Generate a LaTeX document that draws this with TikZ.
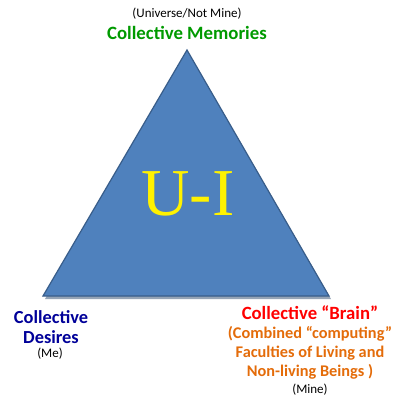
\documentclass[tikz,border=0pt]{standalone}
\usepackage{fontspec}
\setmainfont{Carlito}
\newfontfamily\serifui{Liberation Serif}
\definecolor{trifill}{HTML}{4F81BD}
\definecolor{triedge}{HTML}{385D8A}
\definecolor{memgreen}{HTML}{009A00}
\definecolor{desblue}{HTML}{000099}
\definecolor{brainred}{HTML}{FF0000}
\definecolor{facorange}{HTML}{E46C0A}
\tikzset{
  lbl/.style={inner sep=0pt, align=center},
  small/.style={inner sep=0pt, align=center, font=\fontsize{13}{15}\selectfont, text=black},
}
\begin{document}
\begin{tikzpicture}[x=1pt,y=-1pt]
\useasboundingbox (0,0) rectangle (410,408);
\fill[white] (0,0) rectangle (410,408);
% shadow
\fill[triedge!80!black, opacity=0.5] (188,52) -- (331,299) -- (45,299) -- cycle;
\draw[fill=trifill, draw=triedge, line width=1.2pt, line join=miter] (187,50) coordinate (apex) -- (329,296) coordinate (br) -- (43,296) coordinate (bl) -- cycle;
\node[inner sep=0pt, anchor=base, text=yellow, font=\serifui\fontsize{67}{67}\selectfont] (ui) at (188,215) {U-I};
\node[small] (univ) at (187,14) {(Universe/Not Mine)};
\node[lbl, text=memgreen, font=\bfseries\fontsize{18.8}{20}\selectfont] (mem) at (187,33) {Collective Memories};
\node[lbl, text=desblue, font=\bfseries\fontsize{18.4}{20}\selectfont] (des) at (51,327) {Collective\\Desires};
\node[small] (me) at (50,354) {(Me)};
\node[lbl, text=brainred, font=\bfseries\fontsize{18.7}{20}\selectfont] (brain) at (310,313) {Collective “Brain”};
\node[lbl, text=facorange, font=\bfseries\fontsize{16.3}{19}\selectfont] (fac) at (310,353) {(Combined “computing”\\Faculties of Living and\\Non-living Beings )};
\node[small] (mine) at (310,390) {(Mine)};
\end{tikzpicture}
\end{document}
